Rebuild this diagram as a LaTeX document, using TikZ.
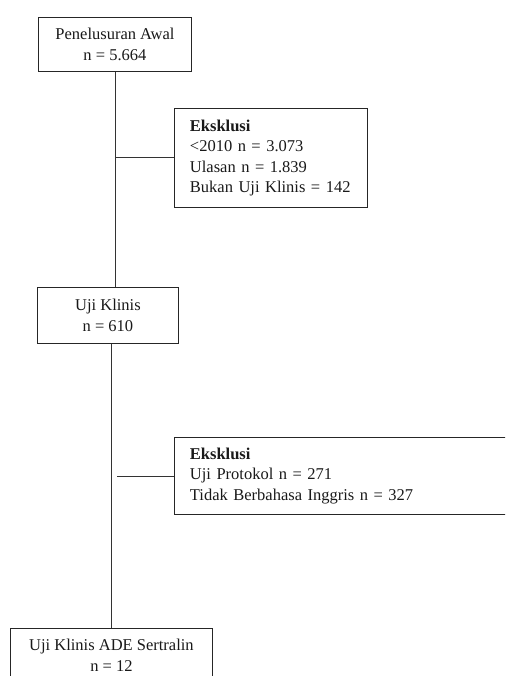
\documentclass[tikz,border=0pt]{standalone}
\usepackage{fontspec}
\setmainfont{Liberation Serif}
\begin{document}
\begin{tikzpicture}[x=1pt,y=-1pt,
  box/.style={draw=black!85, line width=0.9pt, inner sep=0pt, font=\fontsize{16.5}{20.5}\selectfont, text=black!90},
  conn/.style={draw=black!80, line width=0.9pt}]
\useasboundingbox (0,0) rectangle (505,676);
\clip (0,0) rectangle (505,676);
\node[box, anchor=north west, minimum width=153pt, minimum height=54pt, align=center] (b1) at (38,17) {Penelusuran Awal\\n = 5.664};
\node[box, anchor=north west, minimum width=193pt, minimum height=99pt, align=left, text width=182pt] (b2) at (174,108) {\hspace*{10pt}\textbf{Eksklusi}\\\hspace*{10pt}<2010 n = 3.073\\\hspace*{10pt}Ulasan n = 1.839\\\hspace*{10pt}Bukan Uji Klinis = 142};
\node[box, anchor=north west, minimum width=141pt, minimum height=56pt, align=center] (b3) at (37,287) {Uji Klinis\\n = 610};
\node[box, anchor=north west, minimum width=346pt, minimum height=77pt, align=left, text width=335pt] (b4) at (174,437) {\hspace*{10pt}\textbf{Eksklusi}\\\hspace*{10pt}Uji Protokol n = 271\\\hspace*{10pt}Tidak Berbahasa Inggris n = 327};
\node[box, anchor=north west, minimum width=202pt, minimum height=54pt, align=center] (b5) at (10,628) {Uji Klinis ADE Sertralin\\n = 12};
\coordinate (c2) at (117,0);
\draw[conn] (b1.south) -- (b1.south |- b3.north);
\draw[conn] (b5.north |- b3.south) -- (b5.north);
\draw[conn] (b2.west) -- (b2.west -| b1.south);
\draw[conn] (b4.west) -- (b4.west -| c2);
\end{tikzpicture}
\end{document}
